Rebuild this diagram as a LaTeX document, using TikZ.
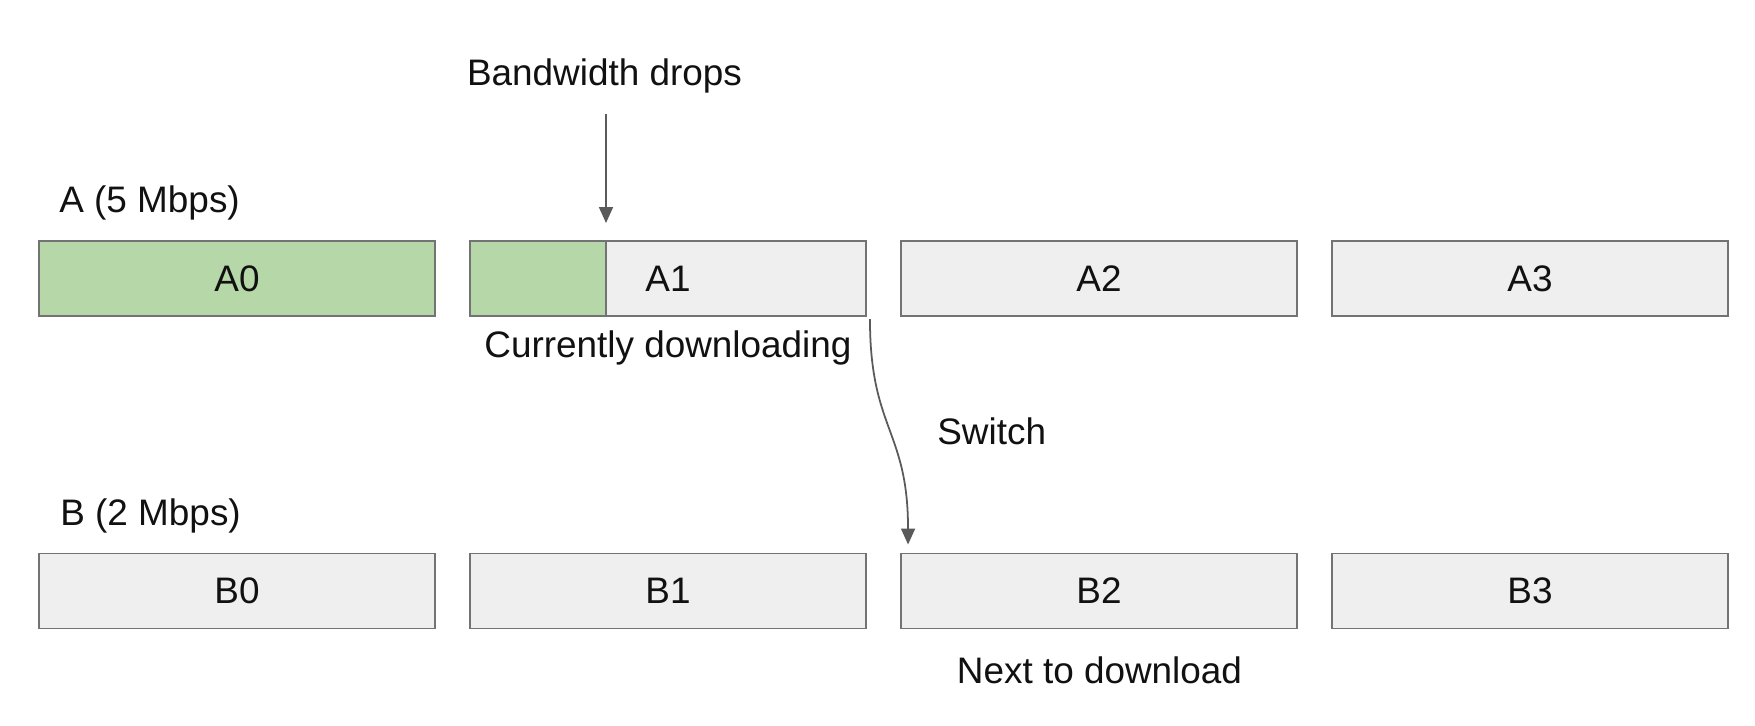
\documentclass[tikz,border=0pt]{standalone}
\usepackage{fontspec}
\setmainfont{Liberation Sans}
\usepackage{xcolor}
\usepackage{tikz}
\usetikzlibrary{arrows.meta,calc,positioning}
\definecolor{Ink}{HTML}{111111}
\definecolor{Idle}{HTML}{EFEFF0}
\definecolor{Done}{HTML}{B6D7A8}
\definecolor{Edge}{HTML}{737373}
\definecolor{Pointer}{HTML}{5A5A5A}

\tikzset{
  seg/.style={draw=Edge,line width=1.1pt,fill=Idle,minimum width=7.92cm,
    minimum height=1.5cm,inner sep=0pt,outer sep=0pt,text=Ink},
  lbl/.style={inner sep=0pt,text=Ink},
  pointer/.style={draw=Pointer,line width=1pt,
    -{Triangle[length=0.32cm,width=0.28cm]}}
}

\begin{document}
\begin{tikzpicture}[x=0.02cm,y=-0.02cm,font=\fontsize{21}{25}\selectfont]
  \useasboundingbox[fill=white] (0,0) rectangle (1755,725);
  % segments of both renditions
  \foreach \i in {0,...,3} {
    \node[seg] (A\i) at (237+431*\i,278.5) {A\i};
    \node[seg] (B\i) at (237+431*\i,591) {B\i};
  }
  \node[seg,fill=Done] at (A0) {A0};
  % part of A1 already fetched
  \coordinate (Split) at (606,0 |- A1.north);
  \draw[draw=Edge,line width=1.1pt,fill=Done] (A1.south west) rectangle (Split);
  % row titles and notes
  \node[lbl,anchor=base west] (rowA) at (59,212) {A (5 Mbps)};
  \node[lbl,anchor=base west] (rowB) at (60,525) {B (2 Mbps)};
  \node[lbl,anchor=base] (drop) at (604.5,85) {Bandwidth drops};
  \node[lbl,anchor=base] (now) at (668,357) {Currently downloading};
  \node[lbl,anchor=base west] (switch) at (937,444) {Switch};
  \node[lbl,anchor=base] (next) at (1099.5,683) {Next to download};
  % arrows
  \coordinate (DropStart) at (606,114);
  \draw[pointer,shorten >=0.36cm] (DropStart) -- (Split);
  \coordinate (SwFrom) at ($(A1.south east)+(4,3)$);
  \coordinate (SwTo) at ($(B2.north west)+(7,-9)$);
  \draw[pointer] (SwFrom) .. controls ($(SwFrom)+(0,111)$) and ($(SwTo)+(0,-115)$) .. (SwTo);
\end{tikzpicture}
\end{document}
